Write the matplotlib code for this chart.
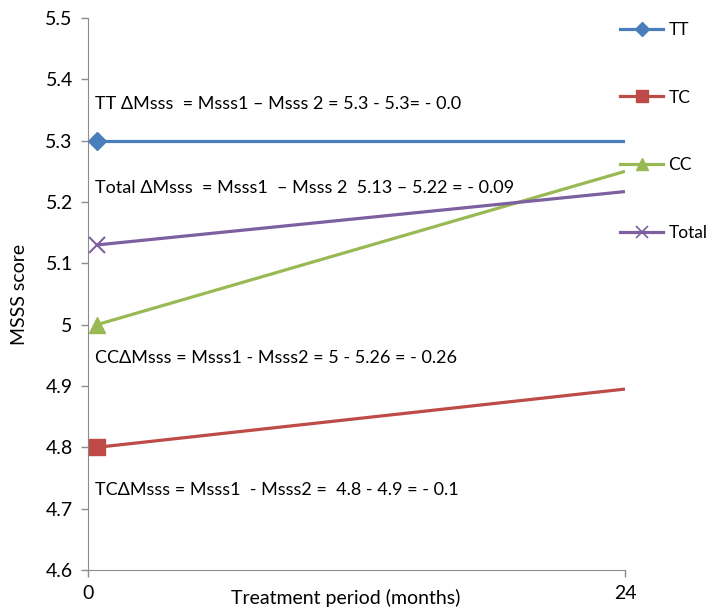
import matplotlib.pyplot as plt
from matplotlib.lines import Line2D

plt.rcParams['font.family'] = ['Lato', 'DejaVu Sans']

# data
months = [0.4, 24]
groups = ['TT', 'TC', 'CC', 'Total']
tt = [5.3, 5.3]
tc = [4.8, 4.895]
cc = [5.0, 5.25]
total = [5.13, 5.217]
series = [tt, tc, cc, total]

colors = ['#4A7EBB', '#BE4B48', '#98B954', '#7D60A0']
markers = ['D', 's', '^', 'x']
msizes = [9.5, 11, 11, 11]

yticks = [4.6, 4.7, 4.8, 4.9, 5.0, 5.1, 5.2, 5.3, 5.4, 5.5]
ytick_labels = ['4.6', '4.7', '4.8', '4.9', '5', '5.1', '5.2', '5.3', '5.4', '5.5']

notes = [
    (5.36, 'TT ΔMsss  = Msss1 – Msss 2 = 5.3 - 5.3= - 0.0'),
    (5.223, 'Total ΔMsss  = Msss1  – Msss 2  5.13 – 5.22 = - 0.09'),
    (4.945, 'CCΔMsss = Msss1 - Msss2 = 5 - 5.26 = - 0.26'),
    (4.73, 'TCΔMsss = Msss1  - Msss2 =  4.8 - 4.9 = - 0.1'),
]

fig = plt.figure(figsize=(7.12, 6.11), dpi=100)
ax = fig.add_axes([88 / 712, 41 / 611, 537 / 712, 552 / 611])

handles = []
for name, vals, c, m, ms in zip(groups, series, colors, markers, msizes):
    ax.plot(months, vals, color=c, lw=2.3, solid_capstyle='butt', zorder=2)
    ax.plot(months[:1], vals[:1], ls='none', marker=m, color=c, ms=ms,
            mew=1.5 if m == 'x' else 1, zorder=3, clip_on=False)
    handles.append(Line2D([], [], color=c, lw=2.3, marker=m, ms=ms * 0.75,
                          mew=1.2 if m == 'x' else 1, label=name))

for y, txt in notes:
    ax.text(0.3, y, txt, fontsize=13, va='center', ha='left', color='black')

ax.set_xlim(0, 24)
ax.set_ylim(4.6, 5.5)
ax.set_xticks([0, 24])
ax.set_xticklabels(['0', '24'])
ax.set_yticks(yticks)
ax.set_yticklabels(ytick_labels)
ax.tick_params(labelsize=14, color='#8c8c8c', length=5, width=1, pad=6)
for s in ['top', 'right']:
    ax.spines[s].set_visible(False)
for s in ['left', 'bottom']:
    ax.spines[s].set_color('#8c8c8c')

ax.set_xlabel('Treatment period (months)', fontsize=14)
ax.xaxis.set_label_coords((346 - 88) / 537, -0.035)
ax.set_ylabel('MSSS score', fontsize=14)
ax.yaxis.set_label_coords(-(88 - 28) / 537, 0.5)

fig.legend(handles=handles, loc='upper left', bbox_to_anchor=(620 / 712, 1 - 22 / 611),
           frameon=False, fontsize=12.5, numpoints=1, handlelength=2.5,
           handletextpad=0.3, labelspacing=2.97, borderpad=0, borderaxespad=0)

fig.savefig('out.png', dpi=100)
